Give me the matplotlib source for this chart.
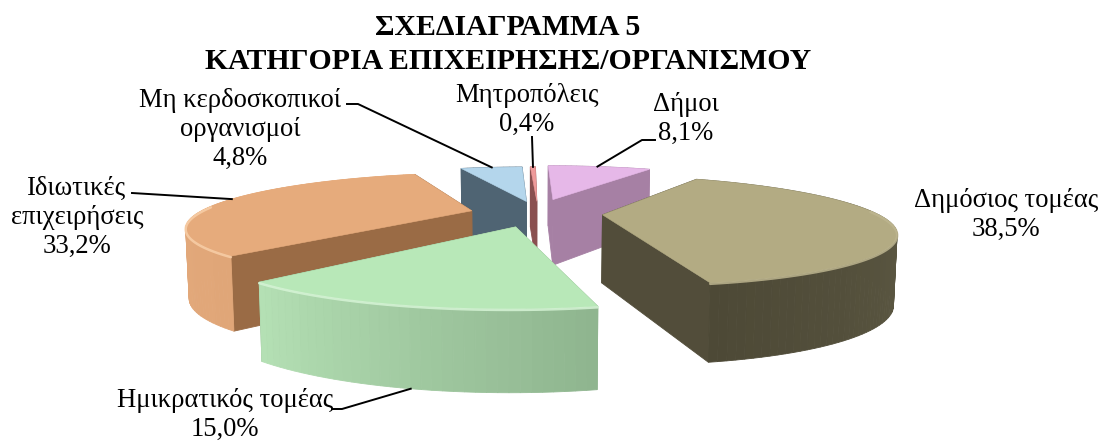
import numpy as np
import matplotlib
matplotlib.use("Agg")
import matplotlib.pyplot as plt
from matplotlib.colors import to_rgb

plt.rcParams['font.family'] = ['Liberation Serif', 'DejaVu Serif']

title_lines = ["ΣΧΕΔΙΑΓΡΑΜΜΑ 5", "ΚΑΤΗΓΟΡΙΑ ΕΠΙΧΕΙΡΗΣΗΣ/ΟΡΓΑΝΙΣΜΟΥ"]
categories = ["Δήμοι", "Δημόσιος τομέας", "Ημικρατικός τομέας", "Ιδιωτικές\nεπιχειρήσεις",
              "Μη κερδοσκοπικοί\nοργανισμοί", "Μητροπόλεις"]
values = [8.1, 38.5, 15.0, 33.2, 4.8, 0.4]

# styling
explode = [0.30, 0.25, 0.27, 0.22, 0.25, 0.25]
nudge = [0.015, 0.015, 0.02, 0.0, 0.03, 0.03]
top_col = ["#e6b8e8", "#b3ab83", "#b8e8b8", "#e6ab7c", "#b4d6ec", "#ee9a9a"]
face_col = ["#a680a4", "#524d3a", "#8fb58f", "#9a6b45", "#4f6473", "#8a5050"]
rim_a = ["#a680a4", "#6f6b53", "#8fb58f", "#e0a678", "#4f6473", "#8a5050"]   # colour at start angle
rim_b = ["#a680a4", "#4d4936", "#b4e0b4", "#eab184", "#4f6473", "#8a5050"]   # colour at end angle
hi_col = ["#e6b8e8", "#bdb58f", "#d6f4d6", "#f8cfa8", "#b4d6ec", "#ee9a9a"]
draw_order = [4, 5, 0, 3, 1, 2]
label_xy = [(686, 140), (1006, 236), (225, 436), (77, 253), (240, 165), (527, 131)]
leader_knee = [[(655, 140), (642, 140)], [], [(332, 409), (342, 409)], [(132, 193)],
               [(347, 104), (358, 104)], [(532, 137)]]
leader_ang = [14, None, 194, 285, 350, 359.3]
leader_bottom = [False, False, True, False, False, False]

CX, HY, F, G, D = 530.0, 33.4, 990.0, 650.0, 3.62


def project(u, v):
    w = D + v
    return CX + F * u / w, HY + G / w, 38.0 + 108.0 / w


fig = plt.figure(figsize=(11.07, 4.41), dpi=100)
ax = fig.add_axes([0, 0, 1, 1])
ax.set_xlim(0, 1107)
ax.set_ylim(441, 0)
ax.axis("off")

total = sum(values)
bounds = np.concatenate([[0], np.cumsum(values)]) / total * 2 * np.pi


def slice_geom(i):
    a0, a1 = bounds[i], bounds[i + 1]
    mid = (a0 + a1) / 2
    ou, ov = explode[i] * np.sin(mid) + nudge[i], explode[i] * np.cos(mid)
    ang = np.linspace(a0, a1, max(int(np.degrees(a1 - a0) / 1.5), 3))
    return ou, ov, ang


def low_x(x):
    return CX + (x - CX) * 0.99


for i in draw_order:
    ou, ov, ang = slice_geom(i)
    su, sv = ou + np.sin(ang), ov + np.cos(ang)
    quads = []
    ca, cb = np.array(to_rgb(rim_a[i])), np.array(to_rgb(rim_b[i]))
    for k in range(len(ang) - 1):
        t = k / max(len(ang) - 2, 1)
        quads.append(((sv[k] + sv[k + 1]) / 2, [(su[k], sv[k]), (su[k + 1], sv[k + 1])],
                      tuple(ca + (cb - ca) * t)))
    quads.append(((ov + sv[0]) / 2, [(ou, ov), (su[0], sv[0])], face_col[i]))
    quads.append(((ov + sv[-1]) / 2, [(ou, ov), (su[-1], sv[-1])], face_col[i]))
    z = draw_order.index(i)
    for _, pts, col in sorted(quads, key=lambda q: -q[0]):
        p = [project(*q) for q in pts]
        xs = [p[0][0], p[1][0], low_x(p[1][0]), low_x(p[0][0])]
        ys = [p[0][1], p[1][1], p[1][1] + p[1][2], p[0][1] + p[0][2]]
        ax.fill(xs, ys, color=col, lw=0.6, zorder=1 + z)
    px, py, _ = project(np.r_[ou, su], np.r_[ov, sv])
    ax.fill(px, py, color=top_col[i], lw=0.4, zorder=1.5 + z)
    mask = np.cos(ang) < 0.1
    if mask.sum() > 1:
        rx, ry, _ = project(su[mask], sv[mask])
        ax.plot(rx, ry + 1, color=hi_col[i], lw=1.8, alpha=0.85, zorder=1.6 + z,
                solid_capstyle="round")

for txt, y in zip(title_lines, (35, 69)):
    ax.text(508, y, txt, ha="center", va="baseline", fontsize=21.4, fontweight="bold", zorder=20)

for i, name in enumerate(categories):
    ax.text(label_xy[i][0], label_xy[i][1], f"{name}\n{values[i]:.1f}%".replace(".", ","),
            ha="center", va="baseline", fontsize=19.2, linespacing=1.2, zorder=20)
    if leader_ang[i] is not None:
        ou, ov, _ = slice_geom(i)
        a = np.radians(leader_ang[i])
        ex, ey, eh = project(ou + np.sin(a), ov + np.cos(a))
        if leader_bottom[i]:
            ex, ey = low_x(ex), ey + eh
        xs = [p[0] for p in leader_knee[i]] + [ex]
        ys = [p[1] for p in leader_knee[i]] + [ey]
        ax.plot(xs, ys, color="black", lw=1.4, zorder=19)

fig.savefig("out.png", dpi=100, facecolor="white")
